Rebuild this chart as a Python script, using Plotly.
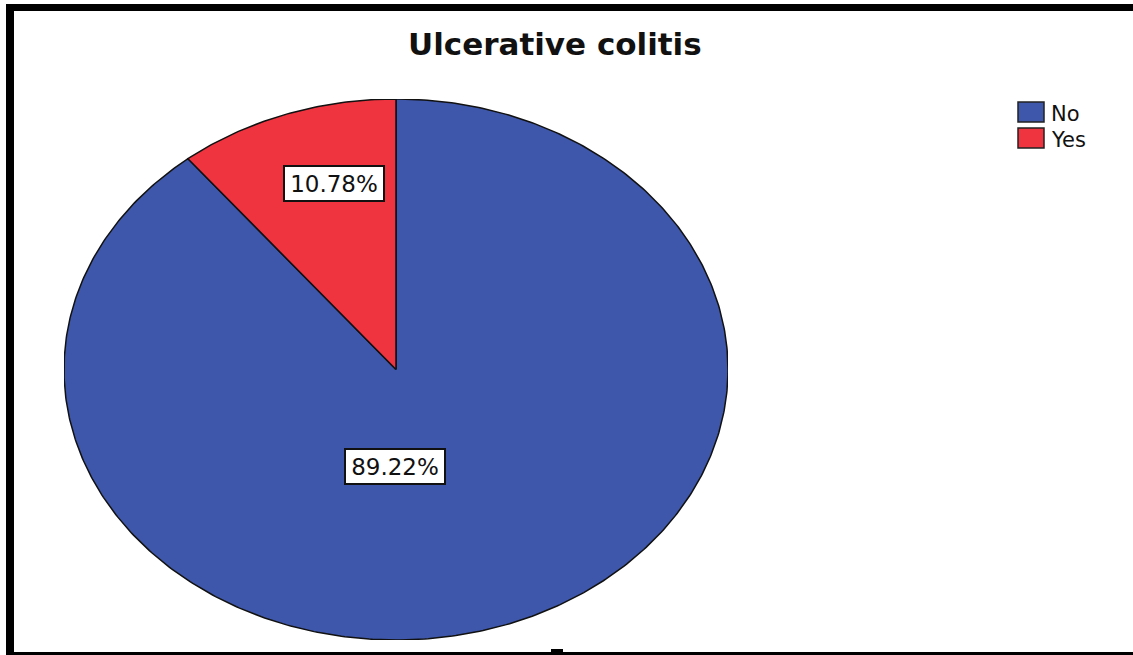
import numpy as np
import plotly.graph_objects as go

# Data
categories = ["No", "Yes"]
percentages = [89.22, 10.78]
colors = ["#3E57AA", "#EF333F"]
title_text = "Ulcerative colitis"

W, H = 1133, 655


def px(x):
    return x / W


def py(y):
    return 1 - y / H


fig = go.Figure()

# Pie slices drawn clockwise from 12 o'clock on an elliptical (stretched) frame
frac = np.array(percentages) / np.sum(percentages)
edges = np.concatenate([[0.0], np.cumsum(frac)])
for i, cat in enumerate(categories):
    t = np.linspace(edges[i], edges[i + 1], max(int(600 * frac[i]), 20)) * 2 * np.pi
    xs = np.concatenate([[0.0], np.sin(t), [0.0]])
    ys = np.concatenate([[0.0], np.cos(t), [0.0]])
    fig.add_trace(go.Scatter(
        x=xs, y=ys, mode="lines", fill="toself",
        fillcolor=colors[i], line=dict(color="#111111", width=1.5),
        name=cat, showlegend=False, hoverinfo="name",
    ))

# Percentage labels (anchor positions in axis units)
label_pos = [(-0.003, -0.36), (-0.188, 0.686)]
for i, cat in enumerate(categories):
    fig.add_annotation(
        x=label_pos[i][0], y=label_pos[i][1], xref="x", yref="y",
        text=f"{percentages[i]:.2f}%", showarrow=False,
        font=dict(family="DejaVu Sans", size=23, color="#111111"),
        bgcolor="white", bordercolor="#111111", borderwidth=2,
        width=96, height=31, xanchor="center", yanchor="middle",
    )

# Title
fig.add_annotation(
    x=px(555), y=py(44), xref="paper", yref="paper",
    text=f"<b>{title_text}</b>", showarrow=False,
    font=dict(family="DejaVu Sans", size=31, color="#111111"),
    xanchor="center", yanchor="middle",
)

shapes = []
# Legend swatches and labels
for i, cat in enumerate(categories):
    top = 102 + 26 * i
    shapes.append(dict(
        type="rect", xref="paper", yref="paper",
        x0=px(1018), x1=px(1044), y0=py(top), y1=py(top + 20),
        fillcolor=colors[i], line=dict(color="#222222", width=1.5),
    ))
    fig.add_annotation(
        x=px(1049), y=py(top + 12), xref="paper", yref="paper",
        text=cat, showarrow=False, xanchor="left", yanchor="middle",
        font=dict(family="DejaVu Sans", size=21, color="#111111"),
    )

# Frame edges
for (x0, y0, x1, y1) in [(6, 4, 14, 655), (6, 4, 1133, 11), (6, 652, 1133, 655), (551, 649, 563, 652)]:
    shapes.append(dict(
        type="rect", xref="paper", yref="paper",
        x0=px(x0), x1=px(x1), y0=py(y1), y1=py(y0),
        fillcolor="black", line=dict(width=0),
    ))

fig.update_layout(
    width=W, height=H,
    margin=dict(l=0, r=0, t=0, b=0),
    paper_bgcolor="white", plot_bgcolor="white",
    showlegend=False,
    shapes=shapes,
    xaxis=dict(domain=[px(64), px(728)], range=[-1.0, 1.0], visible=False,
               fixedrange=True),
    yaxis=dict(domain=[py(640), py(99)], range=[-1.0, 1.0], visible=False,
               fixedrange=True),
)

fig.write_html("out.html")
